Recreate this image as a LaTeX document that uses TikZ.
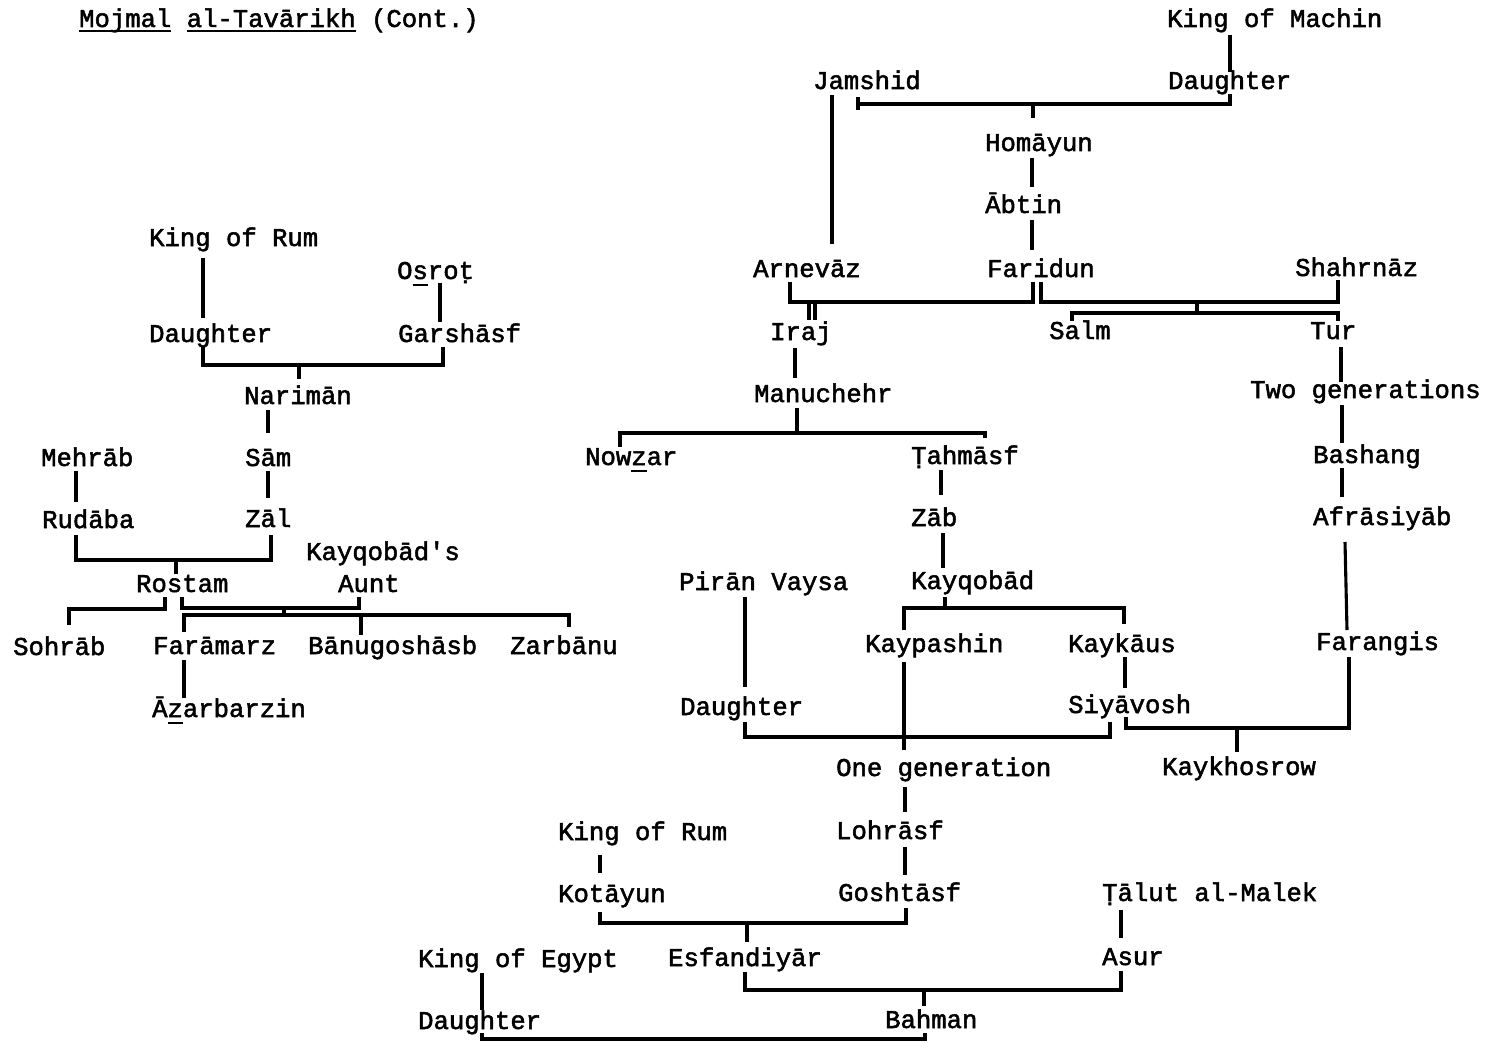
\documentclass[tikz,border=0pt]{standalone}
\usepackage{fontspec}
\newfontfamily\tw[FakeBold=2]{Liberation Mono}
\newsavebox\ulbox
% typewriter-style underscore under a piece of text
\newcommand\ul[2][7]{\sbox\ulbox{#2}\rlap{\rule[-#1pt]{\wd\ulbox}{1.8pt}}\usebox\ulbox}

\begin{document}
\begin{tikzpicture}[x=1pt,y=-1pt,
  lbl/.style={anchor=base west, inner sep=0pt, font=\tw\fontsize{25.6}{30}\selectfont},
  link/.style={line width=3.1pt}]
\useasboundingbox (0,0) rectangle (1488,1043);
\fill[white] (0,0) rectangle (1488,1043);

% ---------------- labels ----------------
\node[lbl] (title) at (79,27) {\ul[5]{Mojmal} \ul[5]{al-Tavārikh} (Cont.)};

\node[lbl] (kmachin)   at (1167,27)  {King of Machin};
\node[lbl] (jamshid)   at (813,89)   {Jamshid};
\node[lbl] (daughterA) at (1168,89)  {Daughter};
\node[lbl] (homayun)   at (985,151)  {Homāyun};
\node[lbl] (abtin)     at (985,213)  {Ābtin};
\node[lbl] (arnevaz)   at (753,277)  {Arnevāz};
\node[lbl] (faridun)   at (987,277)  {Faridun};
\node[lbl] (shahrnaz)  at (1295,276) {Shahrnāz};
\node[lbl] (iraj)      at (770,340)  {Iraj};
\node[lbl] (salm)      at (1049,339) {Salm};
\node[lbl] (tur)       at (1310,339) {Tur};
\node[lbl] (manuchehr) at (754,402)  {Manuchehr};
\node[lbl] (twogen)    at (1250,398) {Two generations};
\node[lbl] (nowzar)    at (585,465)  {Now\ul{z}ar};
\node[lbl] (tahmasf)   at (911,464)  {Ṭahmāsf};
\node[lbl] (bashang)   at (1313,463) {Bashang};
\node[lbl] (zab)       at (911,526)  {Zāb};
\node[lbl] (afrasiyab) at (1313,525) {Afrāsiyāb};
\node[lbl] (piran)     at (679,590)  {Pirān Vaysa};
\node[lbl] (kayqobad)  at (911,589)  {Kayqobād};
\node[lbl] (kaypashin) at (865,652)  {Kaypashin};
\node[lbl] (kaykaus)   at (1068,652) {Kaykāus};
\node[lbl] (farangis)  at (1316,650) {Farangis};
\node[lbl] (daughterC) at (680,715)  {Daughter};
\node[lbl] (siyavosh)  at (1068,713) {Siyāvosh};
\node[lbl] (onegen)    at (836,776)  {One generation};
\node[lbl] (kaykhosrow) at (1162,775) {Kaykhosrow};
\node[lbl] (kingrumB)  at (558,840)  {King of Rum};
\node[lbl] (lohrasf)   at (836,839)  {Lohrāsf};
\node[lbl] (kotayun)   at (558,902)  {Kotāyun};
\node[lbl] (goshtasf)  at (838,901)  {Goshtāsf};
\node[lbl] (talut)     at (1102,901) {Ṭālut al-Malek};
\node[lbl] (kingegypt) at (418,967)  {King of Egypt};
\node[lbl] (esfandiyar) at (668,966) {Esfandiyār};
\node[lbl] (asur)      at (1102,965) {Asur};
\node[lbl] (daughterD) at (418,1029) {Daughter};
\node[lbl] (bahman)    at (885,1028) {Bahman};

\node[lbl] (kingrumA)  at (149,246)  {King of Rum};
\node[lbl] (osrot)     at (397,279)  {O\ul{s}roṭ};
\node[lbl] (daughterB) at (149,342)  {Daughter};
\node[lbl] (garshasf)  at (398,342)  {Garshāsf};
\node[lbl] (nariman)   at (244,404)  {Narimān};
\node[lbl] (mehrab)    at (41,466)   {Mehrāb};
\node[lbl] (sam)       at (245,466)  {Sām};
\node[lbl] (rudaba)    at (42,528)   {Rudāba};
\node[lbl] (zal)       at (245,527)  {Zāl};
\node[lbl] (aunt1)     at (306,560)  {Kayqobād's};
\node[lbl] (rostam)    at (136,592)  {Rostam};
\node[lbl] (aunt2)     at (338,592)  {Aunt};
\node[lbl] (sohrab)    at (13,655)   {Sohrāb};
\node[lbl] (faramarz)  at (153,654)  {Farāmarz};
\node[lbl] (banu)      at (308,654)  {Bānugoshāsb};
\node[lbl] (zarbanu)   at (510,654)  {Zarbānu};
\node[lbl] (azarbarzin) at (152,717) {Ā\ul{z}arbarzin};

% ---------------- lines of descent, right tree ----------------
\draw[link] ([shift={(63,8)}]kmachin.base west) -- ([shift={(62,-17)}]daughterA.base west);
\draw[link] ([shift={(62,5)}]daughterA.base west) |- ([shift={(45,15)}]jamshid.base west);
\draw[link] ([shift={(45,8)}]jamshid.base west) -- ([shift={(45,21)}]jamshid.base west);
\draw[link] ([shift={(48,-47)}]homayun.base west) -- ([shift={(48,-33)}]homayun.base west);
\draw[link] ([shift={(47,7)}]homayun.base west) -- ([shift={(47,-26)}]abtin.base west);
\draw[link] ([shift={(47,7)}]abtin.base west) -- ([shift={(45,-27)}]faridun.base west);
\draw[link] ([shift={(19,6)}]jamshid.base west) -- ([shift={(79,-33)}]arnevaz.base west);
\draw[link] ([shift={(37,5)}]arnevaz.base west) |- ([shift={(46,25)}]faridun.base west) -- ([shift={(46,5)}]faridun.base west);
\draw[link] ([shift={(39,-38)}]iraj.base west) -- ([shift={(39,-20)}]iraj.base west);
\draw[link] ([shift={(45,-38)}]iraj.base west) -- ([shift={(45,-20)}]iraj.base west);
\draw[link] ([shift={(54,5)}]faridun.base west) |- ([shift={(43,26)}]shahrnaz.base west) -- ([shift={(43,4)}]shahrnaz.base west);
\draw[link] ([shift={(-98,26)}]shahrnaz.base west) -- ([shift={(-98,37)}]shahrnaz.base west);
\draw[link] ([shift={(23,-18)}]salm.base west) |- ([shift={(28,-26)}]tur.base west) -- ([shift={(28,-18)}]tur.base west);
\draw[link] ([shift={(31,8)}]tur.base west) -- ([shift={(91,-16)}]twogen.base west);
\draw[link] ([shift={(92,7)}]twogen.base west) -- ([shift={(29,-20)}]bashang.base west);
\draw[link] ([shift={(29,5)}]bashang.base west) -- ([shift={(29,-28)}]afrasiyab.base west);
\draw[link] ([shift={(32,17)}]afrasiyab.base west) -- ([shift={(31,-20)}]farangis.base west);
\draw[link] ([shift={(33,7)}]farangis.base west) |- ([shift={(58,15)}]siyavosh.base west) -- ([shift={(58,4)}]siyavosh.base west);
\draw[link] ([shift={(75,-47)}]kaykhosrow.base west) -- ([shift={(75,-23)}]kaykhosrow.base west);
\draw[link] ([shift={(25,8)}]iraj.base west) -- ([shift={(41,-24)}]manuchehr.base west);
\draw[link] ([shift={(43,6)}]manuchehr.base west) -- ([shift={(43,31)}]manuchehr.base west);
\draw[link] ([shift={(35,-18)}]nowzar.base west) |- ([shift={(74,-31)}]tahmasf.base west) -- ([shift={(74,-26)}]tahmasf.base west);
\draw[link] ([shift={(30,6)}]tahmasf.base west) -- ([shift={(30,-31)}]zab.base west);
\draw[link] ([shift={(32,7)}]zab.base west) -- ([shift={(32,-21)}]kayqobad.base west);
\draw[link] ([shift={(34,8)}]kayqobad.base west) -- ([shift={(34,19)}]kayqobad.base west);
\draw[link] ([shift={(39,-22)}]kaypashin.base west) |- ([shift={(56,-44)}]kaykaus.base west) -- ([shift={(56,-28)}]kaykaus.base west);
\draw[link] ([shift={(57,5)}]kaykaus.base west) -- ([shift={(57,-25)}]siyavosh.base west);
\draw[link] ([shift={(66,7)}]piran.base west) -- ([shift={(65,-28)}]daughterC.base west);
\draw[link] ([shift={(65,7)}]daughterC.base west) |- ([shift={(42,24)}]siyavosh.base west) -- ([shift={(42,9)}]siyavosh.base west);
\draw[link] ([shift={(39,10)}]kaypashin.base west) -- ([shift={(68,-26)}]onegen.base west);
\draw[link] ([shift={(69,11)}]onegen.base west) -- ([shift={(69,-27)}]lohrasf.base west);
\draw[link] ([shift={(69,8)}]lohrasf.base west) -- ([shift={(67,-26)}]goshtasf.base west);
\draw[link] ([shift={(42,15)}]kingrumB.base west) -- ([shift={(42,-29)}]kotayun.base west);
\draw[link] ([shift={(42,10)}]kotayun.base west) |- ([shift={(68,22)}]goshtasf.base west) -- ([shift={(68,7)}]goshtasf.base west);
\draw[link] ([shift={(79,-43)}]esfandiyar.base west) -- ([shift={(79,-24)}]esfandiyar.base west);
\draw[link] ([shift={(19,9)}]talut.base west) -- ([shift={(19,-27)}]asur.base west);
\draw[link] ([shift={(77,6)}]esfandiyar.base west) |- ([shift={(19,25)}]asur.base west) -- ([shift={(19,6)}]asur.base west);
\draw[link] ([shift={(39,-38)}]bahman.base west) -- ([shift={(39,-22)}]bahman.base west);
\draw[link] ([shift={(64,6)}]kingegypt.base west) -- ([shift={(64,-19)}]daughterD.base west);
\draw[link] ([shift={(64,4)}]daughterD.base west) |- ([shift={(40,11)}]bahman.base west) -- ([shift={(40,5)}]bahman.base west);

% ---------------- lines of descent, left tree ----------------
\draw[link] ([shift={(54,12)}]kingrumA.base west) -- ([shift={(54,-24)}]daughterB.base west);
\draw[link] ([shift={(43,4)}]osrot.base west) -- ([shift={(42,-20)}]garshasf.base west);
\draw[link] ([shift={(54,5)}]daughterB.base west) |- ([shift={(45,23)}]garshasf.base west) -- ([shift={(45,5)}]garshasf.base west);
\draw[link] ([shift={(55,-39)}]nariman.base west) -- ([shift={(55,-25)}]nariman.base west);
\draw[link] ([shift={(24,6)}]nariman.base west) -- ([shift={(23,-33)}]sam.base west);
\draw[link] ([shift={(35,5)}]mehrab.base west) -- ([shift={(34,-26)}]rudaba.base west);
\draw[link] ([shift={(23,5)}]sam.base west) -- ([shift={(23,-29)}]zal.base west);
\draw[link] ([shift={(34,7)}]rudaba.base west) |- ([shift={(26,33)}]zal.base west) -- ([shift={(26,8)}]zal.base west);
\draw[link] ([shift={(40,-32)}]rostam.base west) -- ([shift={(40,-18)}]rostam.base west);
\draw[link] ([shift={(29,5)}]rostam.base west) |- ([shift={(56,-46)}]sohrab.base west) -- ([shift={(56,-30)}]sohrab.base west);
\draw[link] ([shift={(46,5)}]rostam.base west) |- ([shift={(21,16)}]aunt2.base west) -- ([shift={(21,5)}]aunt2.base west);
\draw[link] ([shift={(-24,-46)}]banu.base west) -- ([shift={(-24,-37)}]banu.base west);
\draw[link] ([shift={(31,-22)}]faramarz.base west) |- ([shift={(59,-39)}]zarbanu.base west) -- ([shift={(59,-27)}]zarbanu.base west);
\draw[link] ([shift={(53,-39)}]banu.base west) -- ([shift={(53,-19)}]banu.base west);
\draw[link] ([shift={(31,6)}]faramarz.base west) -- ([shift={(32,-19)}]azarbarzin.base west);
\end{tikzpicture}
\end{document}
